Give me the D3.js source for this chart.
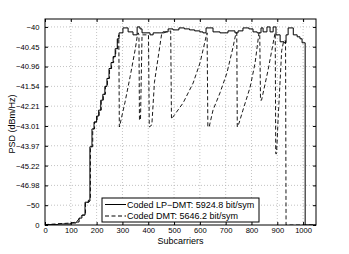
<!DOCTYPE html>
<html>
<head>
<meta charset="utf-8">
<script src="https://cdn.jsdelivr.net/npm/d3@7"></script>
<style>
    body { margin: 0; background: #fff; }
    svg { display: block; font-family: "Liberation Sans", Arial, Helvetica, sans-serif; }
    .grid-line { stroke: #b4b4b4; stroke-width: 0.8; stroke-dasharray: 1,2; }
    .axis path { display: none; }
    .axis line { stroke: #000; }
    .axis text { font-size: 7.6px; fill: #000; }
</style>
</head>
<body>
<svg id="chart" width="349" height="254"></svg>
<script>
// x ticks (subcarrier index)
const xTicks = [0, 100, 200, 300, 400, 500, 600, 700, 800, 900, 1000];
// y axis is drawn on tick index positions, labels are the PSD values shown
const yTicks = [0, 1, 2, 3, 4, 5, 6, 7, 8, 9, 10];
const yTickLabels = ['0', '\u221250', '\u221246.98', '\u221245.22', '\u221243.97', '\u221243.01',
    '\u221242.21', '\u221241.54', '\u221240.96', '\u221240.45', '\u221240'];

const seriesNames = ['Coded LP\u2212DMT: 5924.8 bit/sym', 'Coded DMT: 5646.2 bit/sym'];

// Coded LP-DMT psd, [subcarrier, y-position] (stairs)
const lpDmt = [
    [0, 0.02], [50, 0.05], [100, 0.1], [120, 0.15], [132, 0.35], [143, 0.5], [155, 1.15], [168, 1.25],
    [174, 3.95], [182, 4.85], [190, 5.2], [200, 5.5], [208, 5.8], [216, 6.3], [224, 6.6], [232, 7.0],
    [240, 7.4], [248, 7.9], [256, 8.2], [264, 8.5], [272, 8.9], [280, 9.4], [287, 9.7], [302, 9.95],
    [322, 9.75], [341, 9.6], [357, 10.0], [368, 9.9], [376, 9.7], [407, 9.6], [419, 9.7], [442, 9.7],
    [457, 9.75], [477, 9.9], [496, 9.85], [519, 9.95], [540, 9.9], [560, 9.85], [580, 9.8], [600, 9.75],
    [612, 9.7], [624, 9.95], [651, 9.75], [678, 9.7], [709, 9.8], [736, 9.7], [748, 9.8], [767, 9.95],
    [790, 9.9], [806, 9.75], [822, 9.7], [837, 9.95], [845, 9.75], [860, 10.0], [872, 9.75], [884, 10.0],
    [895, 9.6], [911, 9.25], [926, 9.2], [934, 9.6], [942, 9.95], [962, 9.6], [977, 9.5], [988, 9.4],
    [996, 9.2], [1008, 0], [1050, 0]
];

// Coded DMT psd, [subcarrier, y-position]
const dmt = [
    [0, 0.02], [100, 0.1], [122, 0.15], [134, 0.35], [145, 0.5], [157, 0.5], [157, 1.15], [170, 1.15],
    [176, 1.25], [176, 3.95], [185, 3.95], [185, 4.85], [192, 4.85], [192, 5.2], [202, 5.2], [202, 5.5],
    [210, 5.5], [210, 5.8], [218, 5.8], [218, 6.3], [226, 6.3], [226, 6.6], [234, 6.6], [234, 7.0],
    [242, 7.0], [242, 7.4], [250, 7.4], [250, 7.9], [258, 7.9], [258, 8.2], [266, 8.2], [266, 8.5],
    [274, 8.5], [274, 8.9], [282, 8.9], [282, 9.4], [286, 9.6],
    [288, 4.95], [291, 5.1], [310, 6.2], [330, 7.5], [350, 8.9], [357, 9.5], [361, 9.7], [364, 9.6],
    [366, 5.3], [370, 5.3], [376, 9.6], [401, 9.6], [404, 4.95], [414, 5.05], [424, 7.2], [452, 9.65],
    [470, 9.75], [487, 9.8], [490, 5.35], [535, 6.16], [574, 7.17], [601, 8.2], [624, 9.5], [628, 9.7],
    [631, 4.95], [636, 4.95], [651, 5.8], [678, 6.67], [705, 7.68], [729, 9.0], [740, 9.7], [743, 9.7],
    [745, 4.95], [752, 5.15], [767, 5.8], [795, 6.97], [814, 8.18], [829, 9.7], [832, 9.7], [835, 6.3],
    [839, 6.3], [864, 7.8], [890, 9.6], [892, 9.7], [894, 3.6], [897, 3.6], [900, 4.4], [903, 5.3],
    [917, 8.8], [925, 9.3], [932, 9.3], [934, 0], [1050, 0]
];

const margin = { left: 45, right: 33, top: 19, bottom: 29 };
const width = 349, height = 254;
const svg = d3.select('#chart');

const x = d3.scaleLinear()
    .domain([0, 1050])
    .range([margin.left, width - margin.right]);

const y = d3.scaleLinear()
    .domain([0, 10.4])
    .range([height - margin.bottom, margin.top]);

svg.append('defs').append('clipPath')
    .attr('id', 'plot-clip')
    .append('rect')
    .attr('x', margin.left)
    .attr('y', margin.top)
    .attr('width', x.range()[1] - margin.left)
    .attr('height', y.range()[0] - margin.top);

// grid
const grid = svg.append('g');
grid.selectAll('.gx')
    .data(xTicks.filter(d => d > 0))
    .enter().append('line')
    .attr('class', 'grid-line')
    .attr('x1', d => x(d)).attr('x2', d => x(d))
    .attr('y1', y.range()[0]).attr('y2', y.range()[1]);
grid.selectAll('.gy')
    .data(yTicks.filter(d => d > 0))
    .enter().append('line')
    .attr('class', 'grid-line')
    .attr('x1', x.range()[0]).attr('x2', x.range()[1])
    .attr('y1', d => y(d)).attr('y2', d => y(d));

// axes, ticks point inward on all four sides
svg.append('g')
    .attr('class', 'axis')
    .attr('transform', `translate(0,${y.range()[0]})`)
    .call(d3.axisBottom(x).tickValues(xTicks).tickSize(-3).tickPadding(2.8).tickFormat(d3.format('d')));
svg.append('g')
    .attr('class', 'axis')
    .attr('transform', `translate(0,${y.range()[1]})`)
    .call(d3.axisTop(x).tickValues(xTicks).tickSize(-3).tickFormat(''));
svg.append('g')
    .attr('class', 'axis')
    .attr('transform', `translate(${x.range()[0]},0)`)
    .call(d3.axisLeft(y).tickValues(yTicks).tickSize(-3).tickPadding(5.5)
        .tickFormat((d, i) => yTickLabels[i]));
svg.append('g')
    .attr('class', 'axis')
    .attr('transform', `translate(${x.range()[1]},0)`)
    .call(d3.axisRight(y).tickValues(yTicks).tickSize(-3).tickFormat(''));

// curves
const plot = svg.append('g').attr('clip-path', 'url(#plot-clip)');

const stairs = d3.line()
    .x(d => x(d[0]))
    .y(d => y(d[1]))
    .curve(d3.curveStepAfter);
const polyline = d3.line()
    .x(d => x(d[0]))
    .y(d => y(d[1]));

plot.append('path')
    .datum(dmt)
    .attr('d', polyline)
    .attr('fill', 'none')
    .attr('stroke', '#000')
    .attr('stroke-width', 0.9)
    .attr('stroke-dasharray', '4,2.5');

plot.append('path')
    .datum(lpDmt)
    .attr('d', stairs)
    .attr('fill', 'none')
    .attr('stroke', '#000')
    .attr('stroke-width', 1);

// frame
svg.append('rect')
    .attr('x', x.range()[0])
    .attr('y', y.range()[1])
    .attr('width', x.range()[1] - x.range()[0])
    .attr('height', y.range()[0] - y.range()[1])
    .attr('fill', 'none')
    .attr('stroke', '#000')
    .attr('stroke-width', 1);

// axis labels
svg.append('text')
    .attr('x', (x.range()[0] + x.range()[1]) / 2)
    .attr('y', 244)
    .attr('text-anchor', 'middle')
    .style('font-size', '9px')
    .text('Subcarriers');

svg.append('text')
    .attr('transform', 'translate(15,124) rotate(-90)')
    .attr('text-anchor', 'middle')
    .style('font-size', '9px')
    .text('PSD (dBm/Hz)');

// legend
const legend = svg.append('g').attr('transform', 'translate(102,198)');
legend.append('rect')
    .attr('width', 157)
    .attr('height', 24)
    .attr('fill', '#fff')
    .attr('stroke', '#000')
    .attr('stroke-width', 1);

const legendItems = legend.selectAll('.legend-item')
    .data(seriesNames)
    .enter().append('g')
    .attr('class', 'legend-item')
    .attr('transform', (d, i) => `translate(0,${6.5 + i * 11.5})`);

legendItems.append('line')
    .attr('x1', 3).attr('x2', 24)
    .attr('stroke', '#000')
    .attr('stroke-width', 1)
    .attr('stroke-dasharray', (d, i) => i === 0 ? null : '4,2.5');

legendItems.append('text')
    .attr('x', 25)
    .attr('y', 3.2)
    .style('font-size', '9px')
    .text(d => d);
</script>
</body>
</html>
